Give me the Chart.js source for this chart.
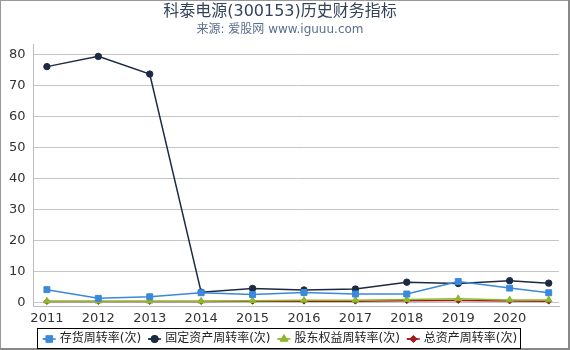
<!DOCTYPE html>
<html>
<head>
<meta charset="utf-8">
<script src="https://cdn.jsdelivr.net/npm/chart.js@4"></script>
<style>
  html, body { margin: 0; padding: 0; background: #fff; }
  #wrap { width: 570px; height: 350px; }
</style>
</head>
<body>
<div id="wrap"><canvas id="c" width="570" height="350"></canvas></div>
<script>
const years = [2011, 2012, 2013, 2014, 2015, 2016, 2017, 2018, 2019, 2020, 2020.76]
const tickYears = [2011, 2012, 2013, 2014, 2015, 2016, 2017, 2018, 2019, 2020]
const yTicks = [0, 10, 20, 30, 40, 50, 60, 70, 80]

const inventory = [4.3, 1.5, 2.0, 3.3, 2.7, 3.4, 2.9, 2.9, 6.9, 4.8, 3.3]
const fixedAsset = [76.2, 79.5, 73.8, 3.5, 4.7, 4.2, 4.5, 6.7, 6.3, 7.2, 6.4]
const equity = [0.6, 0.6, 0.6, 0.6, 0.75, 0.9, 0.9, 1.1, 1.4, 1.0, 1.0]
const totalAsset = [0.5, 0.5, 0.5, 0.5, 0.55, 0.6, 0.6, 0.75, 0.8, 0.65, 0.6]

const font = "'DejaVu Sans', 'Noto Sans CJK SC', sans-serif"

function pts(vals) {
    return vals.map((v, i) => ({x: years[i], y: v}))
}

function series(label, vals, color, style, radius) {
    return {
        label: label,
        data: pts(vals),
        borderColor: color,
        backgroundColor: color,
        pointBackgroundColor: color,
        pointBorderColor: color,
        pointBorderWidth: 1,
        pointStyle: style,
        pointRadius: radius,
        borderWidth: 1.5,
        fill: false,
        tension: 0
    }
}

// frame round the picture, box round the legend and markers on the legend lines
const decor = {
    id: 'decor',
    afterDraw(chart) {
        const ctx = chart.ctx
        ctx.save()
        ctx.fillStyle = '#999'
        ctx.fillRect(0, 0, chart.width, 1)
        ctx.fillRect(0, 0, 1, chart.height)
        ctx.fillStyle = '#888'
        ctx.fillRect(chart.width - 2, 0, 2, chart.height)
        ctx.fillRect(0, chart.height - 2, chart.width, 2)

        const boxes = chart.legend.legendHitBoxes
        if (boxes && boxes.length) {
            const first = boxes[0], last = boxes[boxes.length - 1]
            const cy = first.top + first.height / 2
            ctx.strokeStyle = '#000'
            ctx.lineWidth = 1
            const x0 = Math.round(first.left) - 5.5
            const x1 = Math.round(last.left + last.width) + 3.5
            ctx.strokeRect(x0, Math.round(cy) - 10.5, x1 - x0, 20)
            chart.data.datasets.forEach((ds, i) => {
                const b = boxes[i]
                ctx.strokeStyle = ds.borderColor
                ctx.lineWidth = 1.5
                ctx.beginPath()
                ctx.moveTo(b.left, cy)
                ctx.lineTo(b.left + 13, cy)
                ctx.stroke()
                Chart.helpers.drawPoint(ctx, {
                    pointStyle: ds.pointStyle,
                    radius: ds.pointRadius,
                    borderWidth: 1,
                    rotation: 0
                }, b.left + 6.5, cy)
                ctx.fillStyle = ds.borderColor
                ctx.lineWidth = 1
                ctx.fill()
                ctx.stroke()
            })
        }
        ctx.restore()
    }
}

new Chart(document.getElementById('c').getContext('2d'), {
    type: 'line',
    data: {
        datasets: [
            series('存货周转率(次)', inventory, '#3b88dc', 'rect', 4.2),
            series('固定资产周转率(次)', fixedAsset, '#1b2b43', 'circle', 3.2),
            series('股东权益周转率(次)', equity, '#8cb92e', 'triangle', 3.8),
            series('总资产周转率(次)', totalAsset, '#a3181a', 'rectRot', 3)
        ]
    },
    options: {
        responsive: false,
        animation: false,
        layout: { padding: { left: 1, right: 11, top: 0, bottom: -5 } },
        plugins: {
            title: {
                display: true,
                text: '科泰电源(300153)历史财务指标',
                color: '#34435a',
                font: { family: font, size: 16, weight: 'normal' },
                padding: { top: 2, bottom: 1 }
            },
            subtitle: {
                display: true,
                text: '来源: 爱股网 www.iguuu.com',
                color: '#5a6f8f',
                font: { family: font, size: 12 },
                padding: { top: 0, bottom: 8 }
            },
            legend: {
                position: 'bottom',
                labels: {
                    usePointStyle: true,
                    pointStyleWidth: 11,
                    boxHeight: 12,
                    padding: 7,
                    color: '#222',
                    font: { family: font, size: 12 },
                    generateLabels: chart => chart.data.datasets.map((ds, i) => ({
                        text: ds.label,
                        datasetIndex: i,
                        pointStyle: 'line',
                        strokeStyle: ds.borderColor,
                        fillStyle: ds.borderColor,
                        lineWidth: 1.5,
                        fontColor: '#222',
                        hidden: false
                    }))
                }
            },
            tooltip: { enabled: false }
        },
        scales: {
            x: {
                type: 'linear',
                min: 2010.74,
                max: 2020.96,
                afterBuildTicks: axis => { axis.ticks = tickYears.map(v => ({value: v})) },
                grid: { display: false, drawTicks: true, tickLength: 4, tickColor: '#bbb' },
                border: { color: '#bbb' },
                ticks: {
                    color: '#333',
                    font: { family: font, size: 13 },
                    padding: 0,
                    maxRotation: 0,
                    callback: v => String(v)
                }
            },
            y: {
                min: -1.1,
                max: 83.3,
                afterBuildTicks: axis => { axis.ticks = yTicks.map(v => ({value: v})) },
                grid: { color: '#c4c4c4', drawTicks: false },
                border: { color: '#bbb' },
                ticks: {
                    color: '#333',
                    font: { family: font, size: 13 },
                    padding: 8
                }
            }
        }
    },
    plugins: [decor]
})
</script>
</body>
</html>
